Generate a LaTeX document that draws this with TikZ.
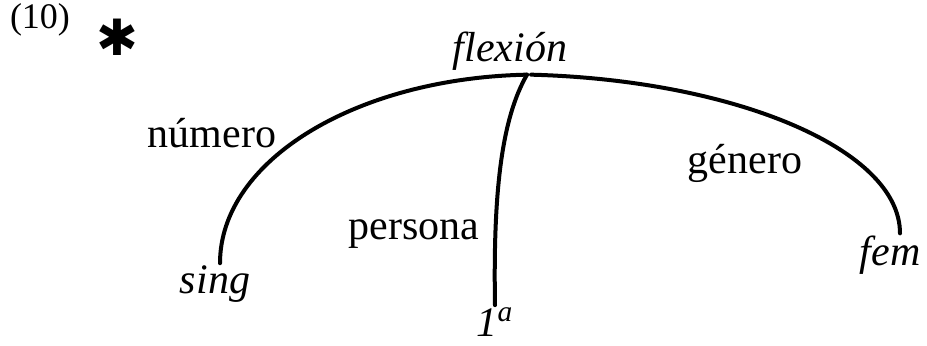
\documentclass[tikz,border=0pt]{standalone}
\usepackage{fontspec}
\setmainfont{Liberation Serif}
\newfontfamily\symfont{DejaVu Sans}
\usepackage{xcolor}
\usetikzlibrary{positioning}

\begin{document}
\begin{tikzpicture}[x=0.5pt,y=-0.5pt,
    lbl/.style={font=\fontsize{21}{25}\selectfont,inner sep=1pt},
    feat/.style={lbl,font=\fontsize{21}{25}\selectfont\itshape},
    branch/.style={line width=2pt,line cap=round}]
  \useasboundingbox (0,0) rectangle (927,345);
  % example number and star
  \node[lbl,font=\fontsize{18}{21}\selectfont] (num) at (40,20) {(10)};
  \node[lbl,font=\fontsize{25}{28}\selectfont\symfont\bfseries] (star) at (117,37) {✱};
  % nodes
  \node[feat] (flexion) at (510,51) {flexión};
  \node[feat] (sing) at (215,284) {sing};
  \node[feat] (uno) at (495,322) {1\textsuperscript{a}};
  \node[feat] (fem) at (890,255) {fem};
  \coordinate (root) at ([xshift=8.5pt,yshift=-1pt]flexion.south);
  % branches
  \draw[branch] (root) .. controls (357,78) and (220,160) .. ([xshift=2.5pt]sing.north);
  \draw[branch] (root) .. controls (502,118) and (493,190) .. (uno.north);
  \draw[branch] ([xshift=2pt]root) .. controls (734,80) and (900,149) .. ([xshift=5pt]fem.north);
  % branch labels
  \node[lbl] (numero) at (212,133) {número};
  \node[lbl] (persona) at (414,234) {persona};
  \node[lbl] (genero) at (745,163) {género};
\end{tikzpicture}
\end{document}
